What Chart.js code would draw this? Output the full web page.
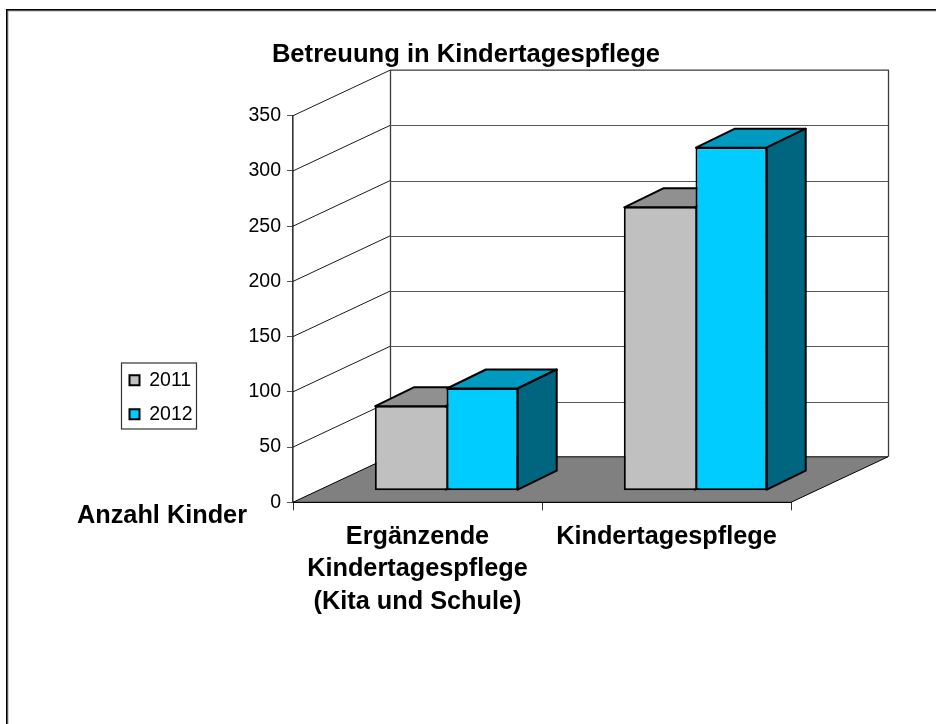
<!DOCTYPE html>
<html>
<head>
<meta charset="utf-8">
<style>html,body{margin:0;padding:0;background:#fff}canvas{display:block}</style>
<script src="https://cdn.jsdelivr.net/npm/chart.js@4"></script>
</head>
<body>
<canvas id="c" width="936" height="724"></canvas>
<script>
const categories = [["Ergänzende","Kindertagespflege","(Kita und Schule)"],"Kindertagespflege"];
const seriesNames = ["2011","2012"];
const values2011 = [77,257];
const values2012 = [93,311];
const yMax = 350;
const yStep = 50;
const titleText = "Betreuung in Kindertagespflege";
const yAxisTitle = "Anzahl Kinder";

const DEPTH_X = 97, DEPTH_Y = 45.5;       // wall/floor depth
const BAR_DEPTH_X = 39, BAR_DEPTH_Y = 19; // bar depth
const BAR_SHIFT_X = 29, BAR_SHIFT_Y = 11.6; // bar offset from the front plane
const FONT = "'Liberation Sans', Arial, sans-serif";

function poly(ctx, pts, fill, stroke, lw){
  ctx.beginPath();
  pts.forEach((p,i)=> i ? ctx.lineTo(p[0],p[1]) : ctx.moveTo(p[0],p[1]));
  ctx.closePath();
  if(fill){ctx.fillStyle=fill;ctx.fill();}
  if(stroke){ctx.strokeStyle=stroke;ctx.lineWidth=lw;ctx.lineJoin='round';ctx.stroke();}
}

const frame3d = {
  id:'frame3d',
  afterLayout(chart){
    const t = chart.titleBlock; t.left = 0; t.right = 932;
    const l = chart.legend;
    const w = 90, h = 84;
    l.left = 115; l.top = 356; l.width = w; l.height = h; l.right = l.left + w; l.bottom = l.top + h;
  },
  beforeDatasetsDraw(chart){
    const {ctx, chartArea:a, scales:{y}} = chart;
    const L=a.left,R=a.right,B=a.bottom,T=a.top;
    ctx.save();
    // outer frame (top and left only)
    ctx.fillStyle='#aaa';ctx.fillRect(7,10,929,1.5);ctx.fillRect(7,10,1.5,714);
    ctx.fillStyle='#000';ctx.fillRect(6,9,930,1.5);ctx.fillRect(6,9,1.5,715);
    // floor
    poly(ctx,[[L,B],[L+DEPTH_X,B-DEPTH_Y],[R+DEPTH_X,B-DEPTH_Y],[R,B]],'#808080','#000',1);
    // back wall + grid
    ctx.lineWidth=1.3;
    ctx.strokeStyle='#3a3a3a';
    ctx.beginPath();
    ctx.moveTo(L+DEPTH_X+.5,B-DEPTH_Y);ctx.lineTo(L+DEPTH_X+.5,T-DEPTH_Y);
    ctx.lineTo(R+DEPTH_X+.5,T-DEPTH_Y);ctx.lineTo(R+DEPTH_X+.5,B-DEPTH_Y);
    ctx.stroke();
    y.ticks.forEach(tk=>{
      const py=y.getPixelForValue(tk.value);
      ctx.beginPath();ctx.strokeStyle='#000';ctx.lineWidth=.9;
      if(tk.value>0){ctx.moveTo(L,py);ctx.lineTo(L+DEPTH_X,py-DEPTH_Y);}
      ctx.stroke();
      if(tk.value>0 && tk.value<yMax){
        ctx.beginPath();ctx.strokeStyle='#555';ctx.lineWidth=1.2;
        ctx.moveTo(L+DEPTH_X,Math.round(py-DEPTH_Y)+.5);ctx.lineTo(R+DEPTH_X,Math.round(py-DEPTH_Y)+.5);
        ctx.stroke();
      }
    });
    // bar tops and sides, behind every front face
    ctx.translate(BAR_SHIFT_X,-BAR_SHIFT_Y);
    chart.data.datasets.forEach((ds,k)=>{
      chart.getDatasetMeta(k).data.forEach(bar=>{
        const p=bar.getProps(['x','y','base','width'],true);
        const x0=p.x-p.width/2+.5,x1=p.x+p.width/2-.5,y0=p.y+.5,yb=p.base-.5;
        poly(ctx,[[x0,y0],[x0+BAR_DEPTH_X,y0-BAR_DEPTH_Y],[x1+BAR_DEPTH_X,y0-BAR_DEPTH_Y],[x1,y0]],ds.topColor,'#000',2);
        poly(ctx,[[x1,y0],[x1+BAR_DEPTH_X,y0-BAR_DEPTH_Y],[x1+BAR_DEPTH_X,yb-BAR_DEPTH_Y],[x1,yb]],ds.sideColor,'#000',2);
      });
    });
    ctx.restore();
  },
  beforeDatasetDraw(chart){
    chart.ctx.save();
    chart.ctx.translate(BAR_SHIFT_X,-BAR_SHIFT_Y);
  },
  afterDatasetDraw(chart){ chart.ctx.restore(); },
  afterDraw(chart){
    const {ctx}=chart;
    ctx.save();
    ctx.strokeStyle='#333';ctx.lineWidth=1.2;
    ctx.strokeRect(121.5,363,75,66);
    ctx.fillStyle='#000';ctx.font="bold 25.3px "+FONT;ctx.textAlign='center';ctx.textBaseline='middle';
    ctx.fillText(yAxisTitle,162,516);
    ctx.restore();
  }
};

new Chart(document.getElementById('c'),{
  type:'bar',
  plugins:[frame3d],
  data:{
    labels:categories,
    datasets:[
      {label:seriesNames[0],data:values2011,backgroundColor:'#C0C0C0',topColor:'#909090',sideColor:'#606060',borderColor:'#000',borderWidth:{top:2,right:0,bottom:2,left:2},borderSkipped:false},
      {label:seriesNames[1],data:values2012,backgroundColor:'#00CCFF',topColor:'#0099BF',sideColor:'#006680',borderColor:'#000',borderWidth:2,borderSkipped:false}
    ]
  },
  options:{
    responsive:false,animation:false,
    layout:{padding:{left:0,right:145,top:0,bottom:0}},
    datasets:{bar:{barPercentage:1,categoryPercentage:0.576}},
    plugins:{
      tooltip:{enabled:false},
      title:{display:true,text:titleText,color:'#000',font:{family:FONT,size:25.6,weight:'bold',lineHeight:1.2},padding:{top:40,bottom:45}},
      legend:{display:true,position:'chartArea',align:'start',
        labels:{color:'#000',font:{family:FONT,size:19.5},boxWidth:10,boxHeight:10,padding:14.5,
          generateLabels(c){
            return Chart.defaults.plugins.legend.labels.generateLabels(c).map(it=>Object.assign(it,{lineWidth:2}));
          }}}
    },
    scales:{
      x:{
        afterFit(s){s.height=724-502.3;},
        grid:{offset:true,drawOnChartArea:false,tickLength:8,color:'#333',lineWidth:1},
        border:{color:'#000',width:1},
        ticks:{color:'#000',maxRotation:0,autoSkip:false,padding:10,font:{family:FONT,size:25.3,weight:'bold',lineHeight:1.29}}
      },
      y:{
        min:0,max:yMax,
        afterFit(s){s.width=293;},
        grid:{drawOnChartArea:false,tickLength:6,color:'#555',lineWidth:1},
        border:{color:'#333',width:1.6},
        ticks:{stepSize:yStep,color:'#000',padding:6,font:{family:FONT,size:19.5}}
      }
    }
  }
});
</script>
</body>
</html>
